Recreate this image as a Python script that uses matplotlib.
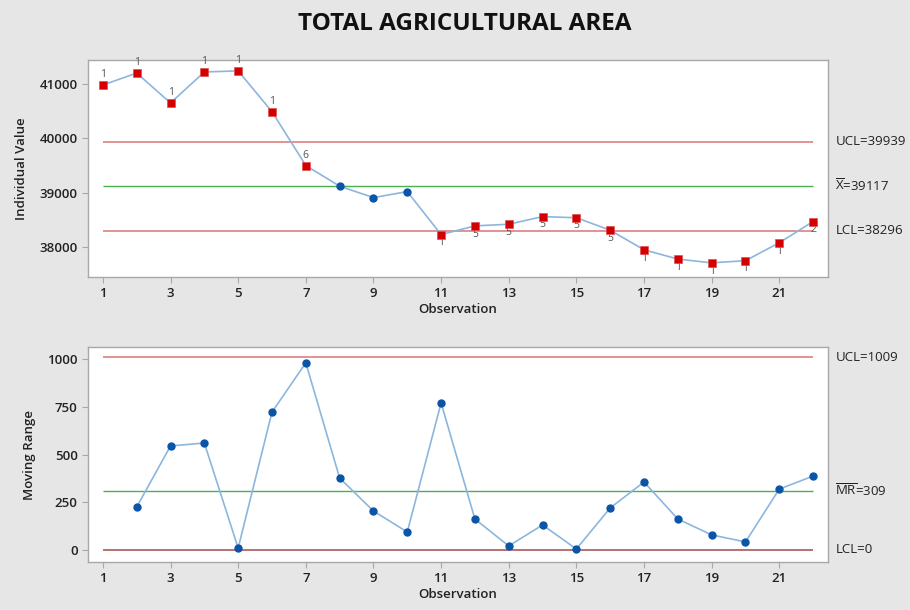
import matplotlib
matplotlib.use("Agg")
import matplotlib.pyplot as plt

plt.rcParams['font.family'] = ['Open Sans', 'DejaVu Sans']
plt.rcParams['mathtext.fontset'] = 'custom'
plt.rcParams['mathtext.rm'] = 'Open Sans'

obs = list(range(1, 23))
individual = [40980, 41200, 40650, 41220, 41240, 40490, 39500, 39120, 38910, 39020, 38230,
              38390, 38420, 38560, 38540, 38310, 37950, 37780, 37710, 37750, 38080, 38470]
mr_obs = list(range(2, 23))
moving_range = [225, 545, 560, 10, 722, 980, 377, 204, 94, 770, 162, 21, 131, 5, 220, 356,
                162, 79, 42, 319, 387]
# test flags for individual chart ('' = not flagged)
flags = ['1', '1', '1', '1', '1', '1', '6', '', '', '', '1', '5', '5', '5', '5', '5',
         '1', '1', '1', '1', '1', '2']
i_limits = {'UCL': 39939, 'CL': 39117, 'LCL': 38296}
mr_limits = {'UCL': 1009, 'CL': 309, 'LCL': 0}
xticks = list(range(1, 23, 2))
i_yticks = [38000, 39000, 40000, 41000]
mr_yticks = [0, 250, 500, 750, 1000]

BG = '#e6e6e6'
LINE = '#8cb6de'
BLUE = '#0a55a8'
RED = '#d40000'
UCLC = '#e08a8a'
GREEN = '#4caf50'
LCLC_MR = '#a85a5a'
TXT = '#222222'

fig = plt.figure(figsize=(9.1, 6.1), dpi=100, facecolor=BG)
ax1 = fig.add_axes([88/910, 1-277/610, 740/910, 217/610])
ax2 = fig.add_axes([88/910, 1-562/610, 740/910, 215/610])

fig.text(465/910, 1-24/610, 'TOTAL AGRICULTURAL AREA', ha='center', va='center',
         fontsize=17.5, fontweight='bold', color='#111111')

def style(ax):
    ax.set_facecolor('white')
    for s in ax.spines.values():
        s.set_color('#a8a8a8')
        s.set_linewidth(1.0)
    ax.tick_params(axis='both', colors='#a8a8a8', length=4, width=0.8,
                   labelcolor=TXT, labelsize=9.5)
    ax.set_xlim(0.56, 22.44)
    ax.set_xticks(xticks)
    for lab in ax.get_xticklabels() + ax.get_yticklabels():
        lab.set_fontweight('semibold')

# Individual chart
ax1.set_ylim(37450, 41440)
ax1.set_yticks(i_yticks)
style(ax1)
ax1.hlines(i_limits['UCL'], 1, 22, color=UCLC, lw=1.3)
ax1.hlines(i_limits['CL'], 1, 22, color=GREEN, lw=1.0)
ax1.hlines(i_limits['LCL'], 1, 22, color=UCLC, lw=1.3)
ax1.plot(obs, individual, color=LINE, lw=1.2, zorder=3)
for x, y, f in zip(obs, individual, flags):
    if f:
        ax1.plot(x, y, marker='s', ms=6, color=RED, mec='#e05050', mew=0.5, zorder=4)
        if y > i_limits['CL']:
            ax1.annotate(f, (x, y), xytext=(0, 3.5), textcoords='offset points',
                         ha='center', va='bottom', fontsize=7.5, color='#555555')
        else:
            ax1.annotate(f, (x, y), xytext=(0, -2), textcoords='offset points',
                         ha='center', va='top', fontsize=7.5, color='#555555')
    else:
        ax1.plot(x, y, marker='o', ms=5, color=BLUE, zorder=4)
ax1.set_xlabel('Observation', fontsize=9.5, fontweight='semibold', color=TXT, labelpad=2)
ax1.set_ylabel('Individual Value', fontsize=9.5, fontweight='semibold', color=TXT, labelpad=8)
ax1.text(1.01, i_limits['UCL'], f"UCL={i_limits['UCL']}", transform=ax1.get_yaxis_transform(),
         va='center', ha='left', fontsize=9.5, color=TXT)
ax1.text(1.01, i_limits['CL'], r"$\overline{\mathrm{X}}$" + f"={i_limits['CL']}",
         transform=ax1.get_yaxis_transform(), va='center', ha='left', fontsize=9.5, color=TXT)
ax1.text(1.01, i_limits['LCL'], f"LCL={i_limits['LCL']}", transform=ax1.get_yaxis_transform(),
         va='center', ha='left', fontsize=9.5, color=TXT)

# Moving range chart
ax2.set_ylim(-63, 1063)
ax2.set_yticks(mr_yticks)
style(ax2)
ax2.hlines(mr_limits['UCL'], 1, 22, color=UCLC, lw=1.3)
ax2.hlines(mr_limits['CL'], 1, 22, color=GREEN, lw=1.0)
ax2.hlines(mr_limits['LCL'], 1, 22, color=LCLC_MR, lw=1.2)
ax2.plot(mr_obs, moving_range, color=LINE, lw=1.2, zorder=3)
ax2.plot(mr_obs, moving_range, ls='none', marker='o', ms=5, color=BLUE, zorder=4)
ax2.set_xlabel('Observation', fontsize=9.5, fontweight='semibold', color=TXT, labelpad=2)
ax2.set_ylabel('Moving Range', fontsize=9.5, fontweight='semibold', color=TXT, labelpad=8)
ax2.text(1.01, mr_limits['UCL'], f"UCL={mr_limits['UCL']}", transform=ax2.get_yaxis_transform(),
         va='center', ha='left', fontsize=9.5, color=TXT)
ax2.text(1.01, mr_limits['CL'], r"$\overline{\mathrm{MR}}$" + f"={mr_limits['CL']}",
         transform=ax2.get_yaxis_transform(), va='center', ha='left', fontsize=9.5, color=TXT)
ax2.text(1.01, mr_limits['LCL'], f"LCL={mr_limits['LCL']}", transform=ax2.get_yaxis_transform(),
         va='center', ha='left', fontsize=9.5, color=TXT)

fig.savefig('out.png', dpi=100, facecolor=BG)
